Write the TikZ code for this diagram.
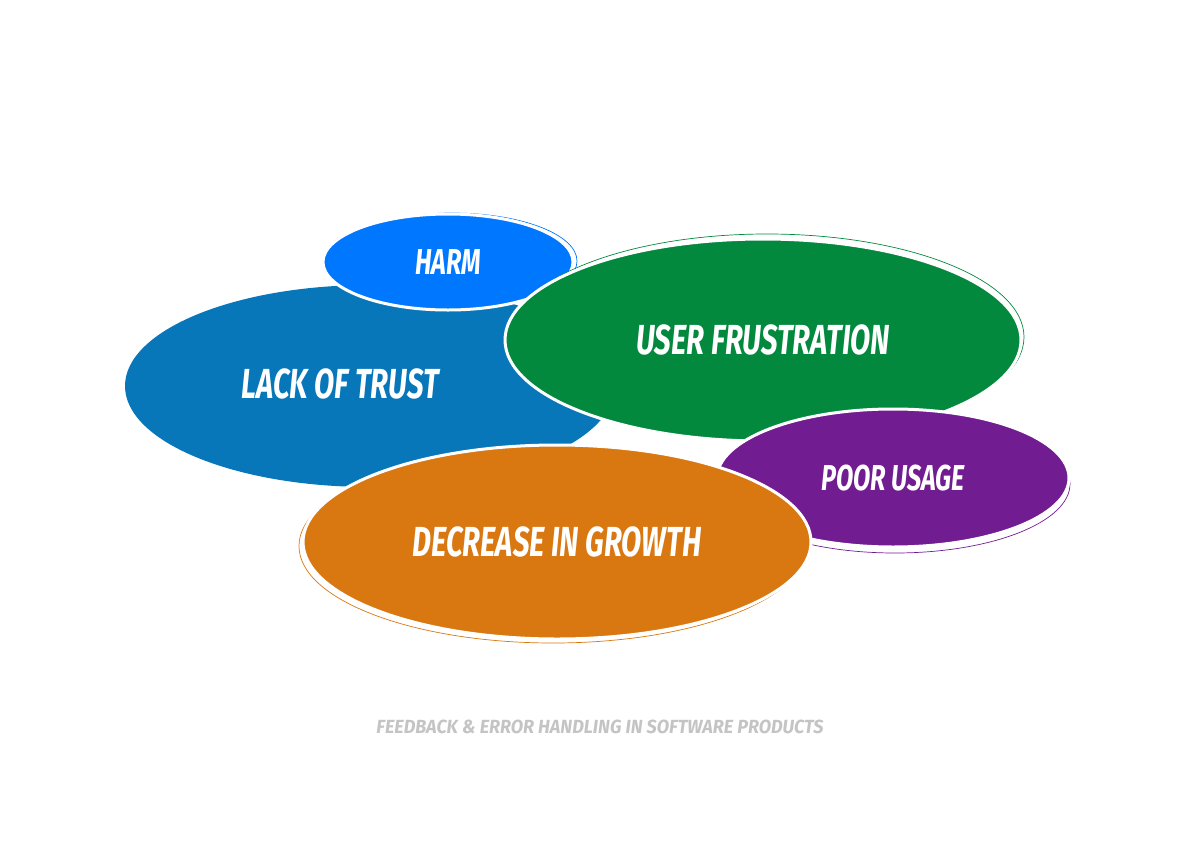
\documentclass[tikz,border=0pt]{standalone}
\usepackage{fontspec}
\usepackage{tikz}
\usetikzlibrary{shapes}

\newfontfamily\blobfont{Fira Sans}[FakeStretch=0.70]
\newfontfamily\capfont{Fira Sans}[FakeStretch=0.95]

\definecolor{trustblue}{HTML}{0777BA}
\definecolor{harmblue}{HTML}{0077FF}
\definecolor{frustgreen}{HTML}{02893D}
\definecolor{usagepurple}{HTML}{721C92}
\definecolor{growthorange}{HTML}{D97811}
\definecolor{capgray}{HTML}{C4C4C4}

\begin{document}
\begin{tikzpicture}[x=1pt,y=-1pt]

	\tikzstyle{blob}=[ellipse,draw=white,line width=3pt,inner sep=0pt,text=white,font=\blobfont\bfseries\itshape\fontsize{42}{44}\selectfont]
	\tikzstyle{smallblob}=[blob,font=\blobfont\bfseries\itshape\fontsize{36}{38}\selectfont]
	\tikzstyle{rim}=[line width=0.7pt]

	\useasboundingbox[fill=white] (0,0) rectangle (1200,854);

	% lack of trust, at the back
	\node [blob,draw=none,fill=trustblue,minimum width=490pt,minimum height=202pt] (trust) at (370,386) {};
	\node [blob,draw=none,fill=none] (trusttext) at (340,384) {LACK OF TRUST};

	% harm
	\draw [rim,harmblue] (452,261) ellipse [x radius=125,y radius=48];
	\node [smallblob,fill=harmblue,minimum width=250pt,minimum height=96pt] (harm) at (448,262) {HARM};

	% user frustration
	\draw [rim,frustgreen] (767,337) ellipse [x radius=257,y radius=103];
	\node [blob,fill=frustgreen,minimum width=516pt,minimum height=202pt] (frust) at (763,340) {USER FRUSTRATION};

	% poor usage
	\draw [rim,usagepurple] (895,484) ellipse [x radius=175,y radius=69];
	\node [smallblob,fill=usagepurple,minimum width=352pt,minimum height=138pt] (usage) at (893,478) {POOR USAGE};

	% decrease in growth
	\draw [rim,growthorange] (553,546) ellipse [x radius=254,y radius=97];
	\node [blob,fill=growthorange,minimum width=508pt,minimum height=194pt] (growth) at (557,542) {DECREASE IN GROWTH};

	\node [text=capgray,font=\capfont\bfseries\itshape\fontsize{19}{21}\selectfont] (caption) at (600,727) {FEEDBACK \& ERROR HANDLING IN SOFTWARE PRODUCTS};

\end{tikzpicture}
\end{document}
